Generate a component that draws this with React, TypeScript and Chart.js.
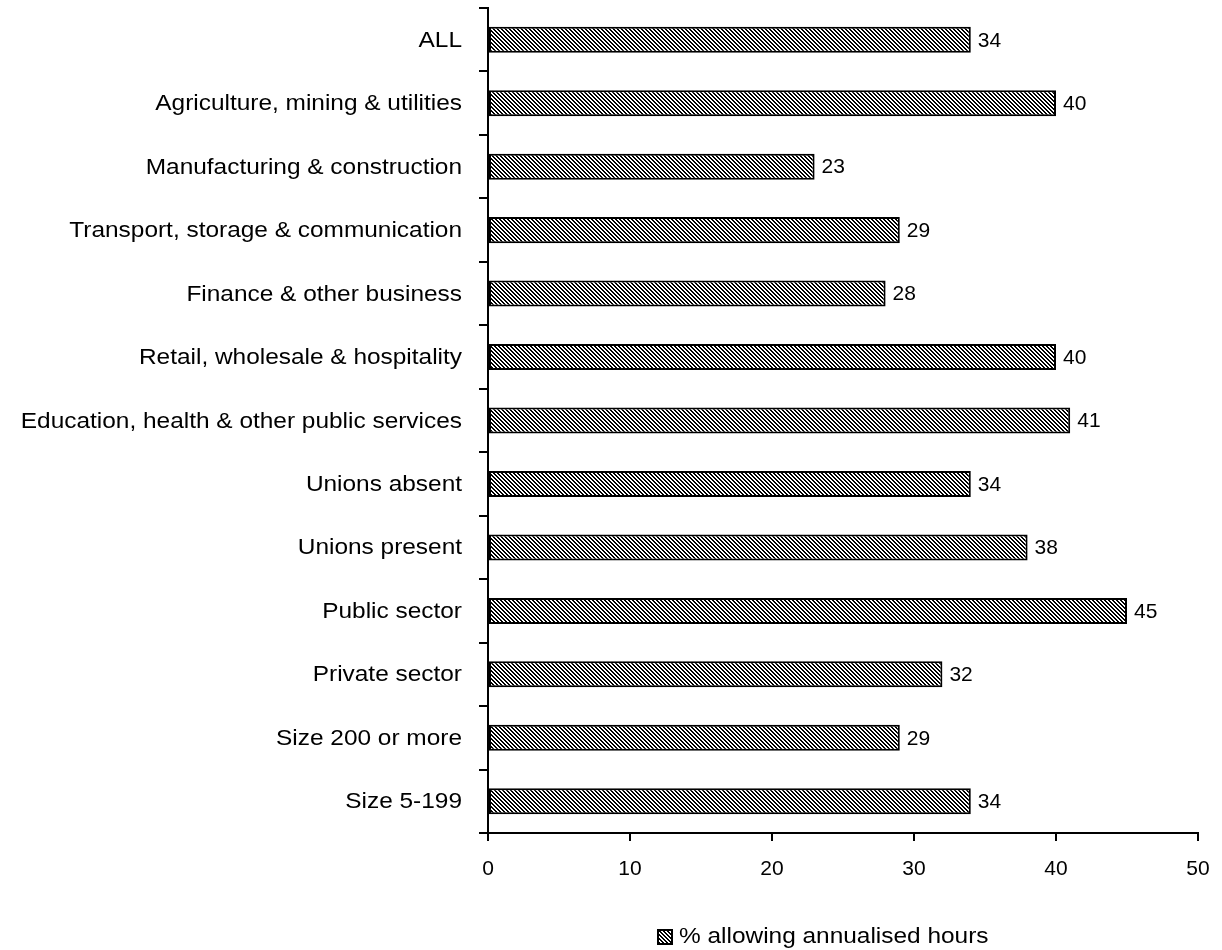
import React, { useEffect, useRef } from "react";
import { Chart, registerables } from "chart.js";

Chart.register(...registerables);

const categories = [
  "ALL",
  "Agriculture, mining & utilities",
  "Manufacturing & construction",
  "Transport, storage & communication",
  "Finance & other business",
  "Retail, wholesale & hospitality",
  "Education, health & other public services",
  "Unions absent",
  "Unions present",
  "Public sector",
  "Private sector",
  "Size 200 or more",
  "Size 5-199",
];
const values = [34, 40, 23, 29, 28, 40, 41, 34, 38, 45, 32, 29, 34];
const seriesLabel = "% allowing annualised hours";
const xTicks = [0, 10, 20, 30, 40, 50];

const FONT = "'Liberation Sans', Arial, sans-serif";
const STRETCH = 1.11;

function makePattern(): CanvasPattern | string {
  const c = document.createElement("canvas");
  c.width = 4;
  c.height = 4;
  const ctx = c.getContext("2d");
  if (!ctx) return "#999";
  ctx.fillStyle = "#ffffff";
  ctx.fillRect(0, 0, 4, 4);
  ctx.fillStyle = "#000000";
  for (let i = 0; i < 4; i++) {
    ctx.fillRect(i, i, 1, 1);
    ctx.fillRect((i + 1) % 4, i, 1, 1);
  }
  const p = ctx.createPattern(c, "repeat");
  return p || "#999";
}

function stretchedText(ctx: CanvasRenderingContext2D, text: string, x: number, y: number, align: "left" | "right") {
  ctx.save();
  ctx.translate(x, y);
  ctx.scale(STRETCH, 1);
  ctx.textAlign = align;
  ctx.textBaseline = "middle";
  ctx.fillText(text, 0, 0);
  ctx.restore();
}

const customText = {
  id: "customText",
  afterDraw(chart: any) {
    const ctx: CanvasRenderingContext2D = chart.ctx;
    const yScale = chart.scales.y;
    const meta = chart.getDatasetMeta(0);
    ctx.save();
    ctx.fillStyle = "#000";
    ctx.font = `22px ${FONT}`;
    categories.forEach((c, i) => {
      stretchedText(ctx, c, 462, yScale.getPixelForValue(i) + 1, "right");
    });
    ctx.font = `21px ${FONT}`;
    ctx.textAlign = "left";
    ctx.textBaseline = "middle";
    meta.data.forEach((el: any, i: number) => {
      ctx.fillText(String(values[i]), el.x + 7, el.y + 1);
    });
    const bx = 657, by = 929, bs = 16;
    const pat = chart.data.datasets[0].backgroundColor;
    ctx.fillStyle = pat;
    ctx.fillRect(bx, by, bs, bs);
    ctx.strokeStyle = "#000";
    ctx.lineWidth = 2;
    ctx.strokeRect(bx + 1, by + 1, bs - 2, bs - 2);
    ctx.fillStyle = "#000";
    ctx.font = `22px ${FONT}`;
    stretchedText(ctx, seriesLabel, 679, by + bs / 2, "left");
    ctx.restore();
  },
};

export default function App() {
  const ref = useRef<HTMLCanvasElement | null>(null);
  useEffect(() => {
    if (!ref.current) return;
    const pattern = makePattern();
    const chart = new Chart(ref.current, {
      type: "bar",
      data: {
        labels: categories,
        datasets: [
          {
            label: seriesLabel,
            data: values,
            backgroundColor: pattern as any,
            borderColor: "#000",
            borderWidth: 2,
            borderSkipped: false,
            barPercentage: 0.41,
            categoryPercentage: 1,
          },
        ],
      },
      options: {
        indexAxis: "y",
        animation: false,
        responsive: false,
        layout: { padding: { top: 8, right: 24, left: 0, bottom: 0 } },
        plugins: {
          tooltip: { enabled: false },
          legend: { display: false },
        },
        scales: {
          x: {
            min: 0,
            max: 50,
            afterBuildTicks(scale: any) {
              scale.ticks = xTicks.map((v) => ({ value: v }));
            },
            grid: {
              drawOnChartArea: false,
              drawTicks: true,
              tickLength: 8,
              color: "#000",
              lineWidth: 2,
            },
            border: { color: "#000", width: 2 },
            ticks: {
              font: { family: FONT, size: 21 },
              color: "#000",
              padding: 16,
              maxRotation: 0,
            },
            afterFit(scale: any) {
              scale.height = 117;
              scale.paddingRight = 0;
              scale.paddingLeft = 0;
            },
          },
          y: {
            grid: {
              drawOnChartArea: false,
              drawTicks: true,
              tickLength: 9,
              color: "#000",
              lineWidth: 2,
              offset: true,
            },
            border: { color: "#000", width: 2 },
            ticks: {
              display: false,
              autoSkip: false,
            },
            afterFit(scale: any) {
              scale.width = 488;
              scale.paddingTop = 0;
              scale.paddingBottom = 0;
            },
          },
        },
      },
      plugins: [customText],
    });
    return () => chart.destroy();
  }, []);
  return (
    <div style={{ position: "fixed", left: 0, top: 0, width: 1222, height: 950, background: "#fff" }}>
      <canvas ref={ref} width={1222} height={950} style={{ display: "block" }} />
    </div>
  );
}
